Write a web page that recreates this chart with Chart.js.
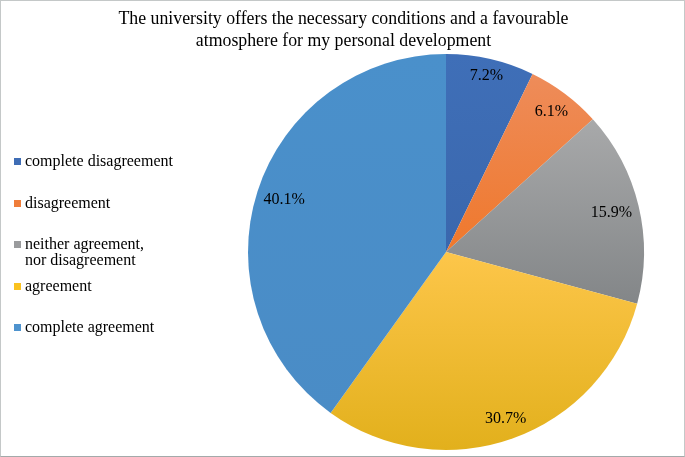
<!DOCTYPE html>
<html>
<head>
<meta charset="utf-8">
<script src="https://cdn.jsdelivr.net/npm/chart.js@4"></script>
<style>
  html, body { margin: 0; padding: 0; background: #fff; }
  #frame {
    position: relative;
    width: 683px; height: 455px;
    border: 1px solid #c4c8c8;
    border-bottom-color: #a3aaaa;
    overflow: hidden;
    font-family: "Liberation Serif", "Times New Roman", serif;
    color: #000;
  }
  #chart { position: absolute; left: -1px; top: -1px; }
  #title {
    position: absolute; left: 0; top: 6px; width: 685px;
    text-align: center; font-size: 17.8px; line-height: 22px;
  }
  #legend { position: absolute; left: 13px; top: 152px; }
  #legend .item { position: relative; height: 41.5px; padding-left: 11px; font-size: 16px; line-height: 16px; }
  #legend .box { position: absolute; left: 0; top: 5px; width: 7px; height: 7px; }
</style>
</head>
<body>
<div id="frame">
  <canvas id="chart" width="685" height="457"></canvas>
  <div id="title"></div>
  <div id="legend"></div>
</div>
<script>
// data
const titleLines = ['The university offers the necessary conditions and a favourable',
                    'atmosphere for my personal development'];
const categories = ['complete disagreement', 'disagreement',
                    'neither agreement,\nnor disagreement', 'agreement', 'complete agreement'];
const shares = [7.2, 6.1, 15.9, 30.7, 40.1];
const topColors = ['#3f6fb8', '#ee8c5a', '#a8a9aa', '#fdc64a', '#4a90cb'];
const bottomColors = ['#3a67ad', '#ef782c', '#838688', '#e2b01c', '#4a8cc6'];
const legendColors = ['#3f6db5', '#ef7d3a', '#9a9b9d', '#fac21f', '#4e93ce'];

document.getElementById('title').innerHTML = titleLines.join('<br>');

const legend = document.getElementById('legend');
categories.forEach((c, i) => {
    const item = document.createElement('div');
    item.className = 'item';
    item.innerHTML = '<span class="box" style="background:' + legendColors[i] + '"></span>' +
        c.split('\n').join('<br>');
    legend.appendChild(item);
});

const total = shares.reduce((a, b) => a + b, 0);

// vertical gradient spanning each slice's own height
function sliceFill(ctx) {
    const chart = ctx.chart;
    const area = chart.chartArea;
    if (!area) return topColors[ctx.dataIndex];
    const i = ctx.dataIndex;
    const cx = (area.left + area.right) / 2, cy = (area.top + area.bottom) / 2;
    const r = Math.min(area.right - area.left, area.bottom - area.top) / 2;
    const before = shares.slice(0, i).reduce((a, b) => a + b, 0);
    const a0 = 2 * Math.PI * before / total;
    const a1 = a0 + 2 * Math.PI * shares[i] / total;
    // angles measured clockwise from 12 o'clock
    const ys = [cy, cy - r * Math.cos(a0), cy - r * Math.cos(a1)];
    if (a0 <= Math.PI && a1 >= Math.PI) ys.push(cy + r);
    if (a0 <= 0) ys.push(cy - r);
    const y0 = Math.min(...ys), y1 = Math.max(...ys);
    const g = chart.ctx.createLinearGradient(0, y0, 0, y1);
    g.addColorStop(0, topColors[i]);
    g.addColorStop(1, bottomColors[i]);
    return g;
}

// percent labels placed just inside the rim
const sliceLabels = {
    id: 'sliceLabels',
    afterDatasetsDraw(chart) {
        const c = chart.ctx;
        const meta = chart.getDatasetMeta(0);
        c.save();
        c.font = '16px "Liberation Serif", serif';
        c.fillStyle = '#000';
        c.textAlign = 'center';
        c.textBaseline = 'middle';
        meta.data.forEach((arc, i) => {
            const p = arc.getProps(['x', 'y', 'startAngle', 'endAngle', 'outerRadius'], true);
            const mid = (p.startAngle + p.endAngle) / 2;
            const txt = shares[i].toFixed(1) + '%';
            const hw = c.measureText(txt).width / 2, hh = 8;
            const ext = Math.abs(hw * Math.cos(mid)) + Math.abs(hh * Math.sin(mid));
            const d = p.outerRadius - 6 - ext;
            c.fillText(txt, p.x + d * Math.cos(mid), p.y + d * Math.sin(mid));
        });
        c.restore();
    }
};

new Chart(document.getElementById('chart'), {
    type: 'pie',
    data: {
        labels: categories,
        datasets: [{
            data: shares,
            backgroundColor: sliceFill,
            borderWidth: 0
        }]
    },
    options: {
        responsive: false,
        animation: false,
        devicePixelRatio: 1,
        layout: { padding: { top: 54, bottom: 7, left: 248, right: 41 } },
        plugins: {
            legend: { display: false },
            title: { display: false },
            tooltip: { enabled: false }
        }
    },
    plugins: [sliceLabels]
});
</script>
</body>
</html>
